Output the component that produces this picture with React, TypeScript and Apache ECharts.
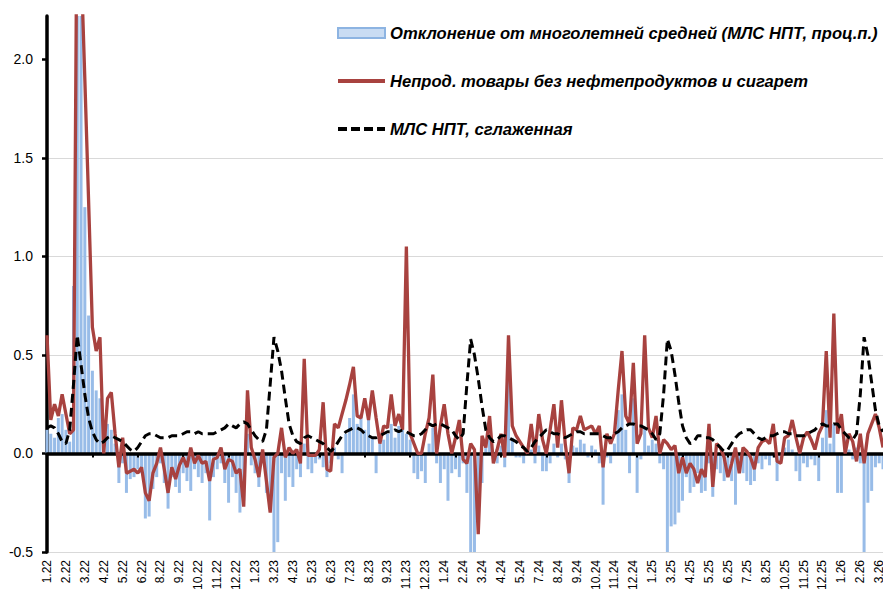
import React, { useEffect, useRef } from 'react';
import * as echarts from 'echarts';

// Weekly observations, starting 05.01.2022; tick labels show month.year
const START_DATE_UTC = Date.UTC(2022, 0, 5);
const WEEK_COUNT = 222;
const weekLabels: string[] = Array.from({ length: WEEK_COUNT }, (_, k) => {
  const d = new Date(START_DATE_UTC + k * 7 * 86400000);
  return `${d.getUTCMonth() + 1}.${String(d.getUTCFullYear()).slice(2)}`;
});

const seriesNames = [
  'Отклонение от многолетней средней (МЛС НПТ, проц.п.)',
  'Непрод. товары без нефтепродуктов и сигарет',
  'МЛС НПТ, сглаженная',
];

// Bars: deviation from multi-year average
const deviation = [
  0.12, 0.10, 0.08, 0.18, 0.20, 0.12, 0.06, 0.85, 2.50, 2.40,
  1.25, 0.70, 0.42, 0.32, 0.28, 0.15, 0.15, 0.12, 0.05, -0.15,
  -0.05, -0.20, -0.13, -0.12, -0.08, -0.10, -0.33, -0.32, -0.18, -0.12,
  -0.05, -0.15, -0.28, -0.12, -0.17, -0.20, -0.10, -0.14, -0.19, -0.08,
  -0.12, -0.15, -0.10, -0.34, -0.12, -0.08, -0.05, -0.15, -0.25, -0.12,
  -0.20, -0.30, -0.24, 0.10, -0.06, -0.10, -0.17, -0.05, -0.20, -0.25,
  -0.55, -0.45, -0.10, -0.24, -0.12, -0.17, -0.08, -0.12, 0.05, -0.08,
  -0.10, -0.05, -0.03, -0.07, -0.12, -0.05, 0.03, -0.03, -0.10, 0.10,
  0.18, 0.30, 0.15, 0.20, 0.12, 0.18, 0.08, -0.10, 0.05, 0.07,
  0.10, 0.15, 0.08, 0.14, 0.12, 0.10, 0.07, -0.10, -0.13, -0.09,
  -0.15, 0.05, 0.13, -0.05, -0.15, -0.08, -0.24, -0.10, -0.08, -0.12,
  -0.05, -0.20, -0.55, -0.55, -0.25, -0.15, 0.03, 0.08, -0.03, -0.05,
  0.04, -0.07, 0.55, 0.08, -0.02, -0.02, -0.05, 0.00, 0.02, -0.05,
  0.04, -0.09, -0.09, -0.05, 0.05, -0.02, 0.05, -0.03, -0.15, 0.04,
  0.03, 0.07, 0.05, -0.02, 0.04, 0.02, -0.05, -0.26, -0.02, -0.05,
  0.05, 0.22, 0.30, 0.12, -0.10, 0.28, -0.20, -0.03, 0.13, 0.04,
  0.07, 0.05, -0.05, -0.08, -0.55, -0.37, -0.36, -0.30, -0.24, -0.12,
  -0.20, -0.17, -0.10, -0.20, -0.19, -0.05, -0.22, -0.08, -0.10, -0.14,
  -0.08, -0.14, -0.26, -0.08, -0.10, -0.14, -0.16, -0.14, -0.05, -0.08,
  -0.03, -0.06, -0.02, -0.14, -0.04, 0.03, 0.07, 0.02, -0.09, -0.14,
  -0.05, -0.07, -0.03, -0.06, -0.14, 0.08, 0.22, 0.05, 0.15, -0.20,
  -0.20, 0.07, 0.02, -0.03, 0.03, -0.05, -0.55, -0.25, -0.19, -0.07,
  -0.05, -0.08,
];

// Red line: non-food goods excl. petroleum products and cigarettes
const nonFood = [
  0.60, 0.17, 0.25, 0.19, 0.30, 0.20, 0.10, 0.12, 3.00, 2.50,
  1.90, 1.28, 0.64, 0.52, 0.59, 0.00, 0.28, 0.31, 0.10, -0.07,
  0.08, -0.10, -0.09, -0.08, -0.10, -0.07, -0.20, -0.24, -0.10, -0.05,
  0.03, -0.08, -0.20, -0.07, -0.13, -0.06, -0.02, -0.07, 0.03, -0.05,
  -0.01, -0.05, -0.04, -0.14, -0.03, -0.02, 0.03, -0.08, -0.03, -0.04,
  -0.10, -0.08, -0.27, 0.32, 0.03, -0.03, -0.12, 0.02, -0.14, -0.30,
  -0.02, 0.00, 0.13, -0.02, 0.03, 0.00, 0.02, -0.05, 0.48, -0.01,
  -0.01, -0.01, 0.02, 0.26, -0.08, -0.09, 0.15, 0.13, 0.20, 0.27,
  0.35, 0.44, 0.19, 0.18, 0.28, 0.17, 0.32, 0.18, 0.05, 0.14,
  0.13, 0.30, 0.14, 0.20, 0.12, 1.05, 0.10, 0.05, 0.00, 0.00,
  0.10, 0.18, 0.40, 0.00, 0.14, 0.25, 0.10, 0.00, 0.08, 0.17,
  -0.03, -0.05, 0.05, 0.02, -0.41, 0.09, 0.03, 0.19, -0.05, 0.02,
  0.10, -0.02, 0.60, 0.14, 0.09, 0.06, 0.03, 0.00, 0.15, 0.00,
  0.20, 0.07, 0.00, 0.12, 0.25, 0.03, 0.27, 0.05, -0.10, 0.13,
  0.12, 0.19, 0.12, 0.13, 0.14, 0.10, 0.14, -0.07, 0.10, 0.05,
  0.10, 0.32, 0.52, 0.19, 0.15, 0.46, 0.05, 0.10, 0.60, 0.13,
  0.08, 0.19, 0.00, 0.07, 0.05, 0.02, 0.04, -0.10, -0.02, -0.10,
  -0.05, -0.08, -0.15, -0.08, -0.12, 0.15, -0.17, 0.05, 0.03, -0.02,
  -0.12, -0.05, 0.03, -0.10, 0.03, 0.01, -0.02, -0.08, 0.03, 0.06,
  0.07, 0.05, 0.15, -0.04, -0.05, 0.08, 0.09, 0.17, 0.08, 0.00,
  0.08, 0.11, 0.07, 0.02, 0.10, 0.14, 0.52, 0.08, 0.71, 0.10,
  0.20, 0.00, 0.10, 0.06, -0.04, 0.10, -0.05, 0.10, 0.15, 0.20,
  0.13, 0.03,
];

// Dashed line: smoothed multi-year average
const mlsSmoothed = [
  0.13, 0.14, 0.13, 0.10, 0.06, 0.05, 0.12, 0.35, 0.60, 0.45,
  0.30, 0.18, 0.11, 0.07, 0.05, 0.06, 0.08, 0.09, 0.08, 0.07,
  0.06, 0.04, 0.02, 0.01, 0.03, 0.06, 0.09, 0.10, 0.10, 0.09,
  0.08, 0.08, 0.08, 0.09, 0.09, 0.09, 0.10, 0.11, 0.11, 0.10,
  0.11, 0.10, 0.10, 0.10, 0.10, 0.11, 0.12, 0.13, 0.15, 0.14,
  0.13, 0.15, 0.16, 0.15, 0.12, 0.09, 0.07, 0.06, 0.12, 0.35,
  0.59, 0.52, 0.42, 0.28, 0.15, 0.09, 0.06, 0.05, 0.08, 0.09,
  0.08, 0.07, 0.06, 0.05, 0.03, 0.01, 0.03, 0.06, 0.09, 0.11,
  0.12, 0.13, 0.13, 0.12, 0.10, 0.09, 0.08, 0.08, 0.09, 0.10,
  0.11, 0.11, 0.12, 0.11, 0.12, 0.11, 0.10, 0.09, 0.09, 0.10,
  0.12, 0.15, 0.14, 0.15, 0.15, 0.14, 0.13, 0.12, 0.09, 0.07,
  0.10, 0.35, 0.58, 0.50, 0.38, 0.24, 0.12, 0.08, 0.06, 0.07,
  0.09, 0.09, 0.08, 0.07, 0.06, 0.04, 0.03, 0.01, 0.03, 0.06,
  0.08, 0.10, 0.12, 0.11, 0.10, 0.10, 0.09, 0.08, 0.09, 0.10,
  0.11, 0.11, 0.10, 0.10, 0.10, 0.10, 0.10, 0.09, 0.08, 0.08,
  0.10, 0.11, 0.13, 0.14, 0.15, 0.15, 0.14, 0.14, 0.13, 0.12,
  0.10, 0.07, 0.10, 0.30, 0.58, 0.52, 0.40, 0.26, 0.14, 0.08,
  0.05, 0.06, 0.09, 0.09, 0.08, 0.08, 0.07, 0.05, 0.03, 0.01,
  0.02, 0.05, 0.08, 0.10, 0.11, 0.12, 0.12, 0.10, 0.08, 0.07,
  0.08, 0.09, 0.09, 0.10, 0.11, 0.11, 0.10, 0.10, 0.09, 0.09,
  0.09, 0.10, 0.11, 0.12, 0.14, 0.15, 0.14, 0.14, 0.15, 0.15,
  0.12, 0.10, 0.08, 0.07, 0.10, 0.30, 0.59, 0.50, 0.36, 0.22,
  0.14, 0.11,
];

const yTickValues = [-0.5, 0, 0.5, 1, 1.5, 2];

const FONT = 'Arial, "Liberation Sans", sans-serif';

export default function App() {
  const ref = useRef<HTMLDivElement>(null);

  useEffect(() => {
    if (!ref.current) return;
    const chart = echarts.init(ref.current, undefined, { renderer: 'svg' });
    chart.setOption({
      animation: false,
      backgroundColor: '#ffffff',
      textStyle: { fontFamily: FONT },
      grid: {
        left: 47,
        right: 0,
        top: 16,
        bottom: 39,
        containLabel: false,
        outerBoundsMode: 'none',
      },
      legend: {
        orient: 'vertical',
        left: 336,
        top: 24,
        padding: 0,
        itemWidth: 47,
        itemHeight: 10,
        itemGap: 30,
        textStyle: {
          fontFamily: FONT,
          fontSize: 16.6,
          fontWeight: 'bold',
          fontStyle: 'italic',
          color: '#000',
          lineHeight: 18,
        },
        data: [
          {
            name: seriesNames[0],
            icon: 'rect',
            itemStyle: { color: '#c9dcf3', borderColor: '#8db4e2', borderWidth: 2 },
          },
          {
            name: seriesNames[1],
            itemStyle: { opacity: 0 },
            lineStyle: { color: '#a8423f', width: 4 },
          },
          {
            name: seriesNames[2],
            itemStyle: { opacity: 0 },
            lineStyle: { color: '#000', width: 4, type: [9, 4] },
          },
        ],
      },
      xAxis: [
        {
          type: 'category',
          data: weekLabels,
          boundaryGap: false,
          position: 'bottom',
          axisLine: { show: false, onZero: false },
          axisTick: { show: false },
          splitLine: { show: false },
          axisLabel: {
            interval: 4,
            rotate: 90,
            margin: 8,
            fontSize: 12,
            color: '#000',
            fontFamily: FONT,
          },
        },
        {
          type: 'category',
          data: weekLabels,
          boundaryGap: false,
          position: 'bottom',
          z: 3,
          axisLine: { show: true, onZero: true, lineStyle: { color: '#000', width: 3.5 } },
          axisTick: { show: true, interval: 11, length: 4, inside: false, lineStyle: { color: '#000', width: 2 } },
          axisLabel: { show: false },
          splitLine: { show: false },
        },
      ],
      yAxis: {
        type: 'value',
        min: -0.5,
        max: 2.22,
        interval: 0.5,
        axisLine: { show: true, onZero: false, lineStyle: { color: '#000', width: 3.5 } },
        axisTick: {
          show: true,
          length: 5,
          customValues: yTickValues,
          lineStyle: { color: '#000', width: 2.5 },
        },
        axisLabel: {
          customValues: yTickValues,
          formatter: (v: number) => v.toFixed(1),
          fontSize: 14,
          color: '#000',
          margin: 14,
          fontFamily: FONT,
        },
        splitLine: {
          show: true,
          showMaxLine: false,
          lineStyle: { color: '#d9d9d9', width: 1 },
        },
      },
      series: [
        {
          name: seriesNames[0],
          type: 'bar',
          xAxisIndex: 0,
          data: deviation,
          barWidth: 3,
          itemStyle: { color: '#98bce8' },
          z: 2,
        },
        {
          name: seriesNames[1],
          type: 'line',
          xAxisIndex: 0,
          data: nonFood,
          symbol: 'none',
          lineStyle: { color: '#a8423f', width: 3.3 },
          itemStyle: { color: '#a8423f' },
          z: 4,
        },
        {
          name: seriesNames[2],
          type: 'line',
          xAxisIndex: 0,
          data: mlsSmoothed,
          symbol: 'none',
          lineStyle: { color: '#000', width: 3, type: [9, 5] },
          itemStyle: { color: '#000' },
          z: 5,
        },
      ],
    });
    return () => chart.dispose();
  }, []);

  return (
    <div
      ref={ref}
      style={{ position: 'fixed', left: 0, top: 0, width: 883, height: 591, background: '#fff' }}
    />
  );
}
